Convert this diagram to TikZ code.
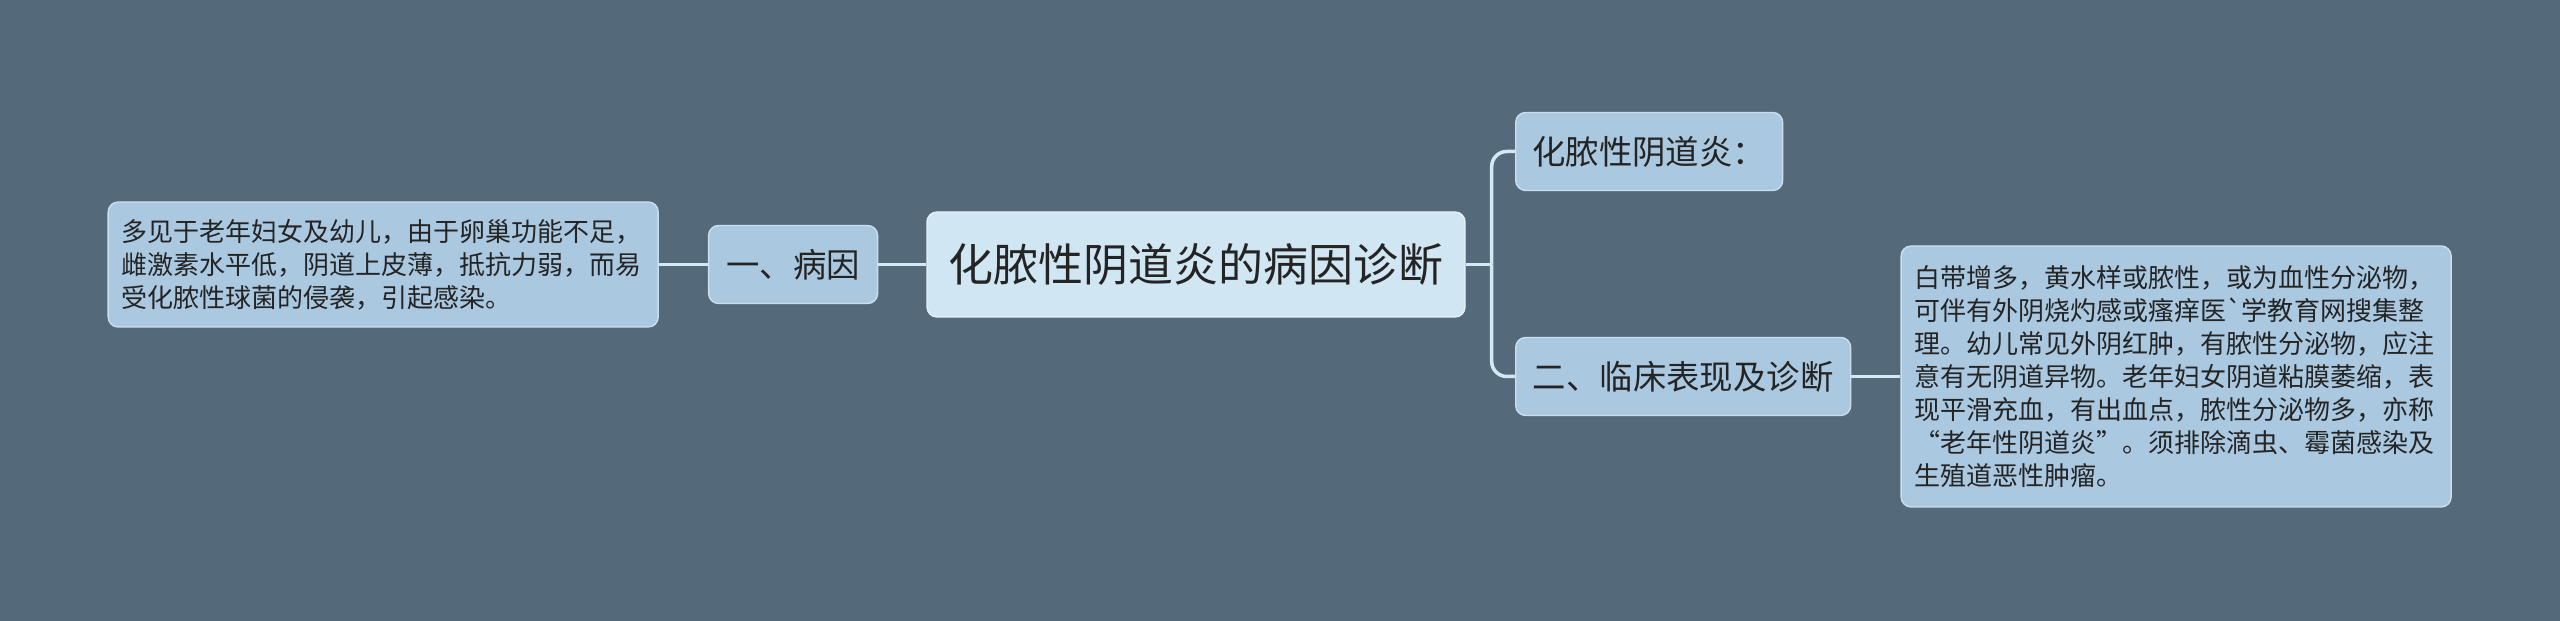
\documentclass[tikz,border=0pt]{standalone}
\usepackage{fontspec}
\usepackage{tikz}
\usetikzlibrary{positioning}
\newfontfamily\cjk{Noto Sans CJK SC}[Ligatures=TeXOff]
\definecolor{bgslate}{RGB}{84,106,122}
\definecolor{rootfill}{RGB}{208,230,242}
\definecolor{nodefill}{RGB}{170,200,224}
\definecolor{linkcol}{RGB}{210,233,244}
\definecolor{txtcol}{RGB}{36,36,36}

\begin{document}
\begin{tikzpicture}[
font=\cjk,
rootbox/.style={draw=white!50!rootfill,line width=0.4pt,fill=rootfill,rounded corners=1mm,
  minimum width=5.38cm,minimum height=1.05cm,inner sep=0pt,text=txtcol,
  font=\cjk\fontsize{12.8pt}{15pt}\selectfont},
topicbox/.style={draw=white!40!nodefill,line width=0.4pt,fill=nodefill,rounded corners=1mm,
  minimum height=0.78cm,inner sep=0pt,text=txtcol,
  font=\cjk\fontsize{9.5pt}{11pt}\selectfont},
leafbox/.style={draw=white!40!nodefill,line width=0.4pt,fill=nodefill,rounded corners=1mm,
  text width=5.24cm,inner xsep=0.13cm,inner ysep=0pt,align=left,text=txtcol,
  font=\cjk\fontsize{7.4pt}{9.4pt}\selectfont},
link/.style={draw=linkcol,line width=1pt}
]
    % Background
    \fill[bgslate] (0,0) rectangle (25.6,6.21);
    \useasboundingbox (0,0) rectangle (25.6,6.21);

    % Root and left side
    \node[rootbox] (root) at (11.96,3.565) {化脓性阴道炎的病因诊断};
    \node[topicbox,minimum width=1.69cm,left=0.48cm of root] (bingyin) {一、病因};
    \node[leafbox,minimum height=1.25cm,left=0.49cm of bingyin] (bingyinleaf)
      {多见于老年妇女及幼儿，由于卵巢功能不足，\\
       雌激素水平低，阴道上皮薄，抵抗力弱，而易\\
       受化脓性球菌的侵袭，引起感染。};

    % Right side
    \node[topicbox,minimum width=2.67cm,anchor=west] (yandef) at (15.15,4.695) {化脓性阴道炎：};
    \node[topicbox,minimum width=3.35cm,anchor=west] (linchuang) at (15.15,2.445) {二、临床表现及诊断};
    \node[leafbox,minimum height=2.61cm,right=0.49cm of linchuang] (linchuangleaf)
      {白带增多，黄水样或脓性，或为血性分泌物，\\
       可伴有外阴烧灼感或瘙痒医`学教育网搜集整\\
       理。幼儿常见外阴红肿，有脓性分泌物，应注\\
       意有无阴道异物。老年妇女阴道粘膜萎缩，表\\
       现平滑充血，有出血点，脓性分泌物多，亦称\\
       “老年性阴道炎”。须排除滴虫、霉菌感染及\\
       生殖道恶性肿瘤。};

    % Connectors
    \coordinate (fork) at ([xshift=2.6mm]root.east);
    \draw[link] (bingyinleaf) -- (bingyin);
    \draw[link] (bingyin) -- (root);
    \draw[link] (root.east) -- (fork);
    \draw[link,rounded corners=1.5mm] (fork) |- (yandef.west);
    \draw[link,rounded corners=1.5mm] (fork) |- (linchuang.west);
    \draw[link] (linchuang) -- (linchuang.east -| linchuangleaf.west);
\end{tikzpicture}
\end{document}
